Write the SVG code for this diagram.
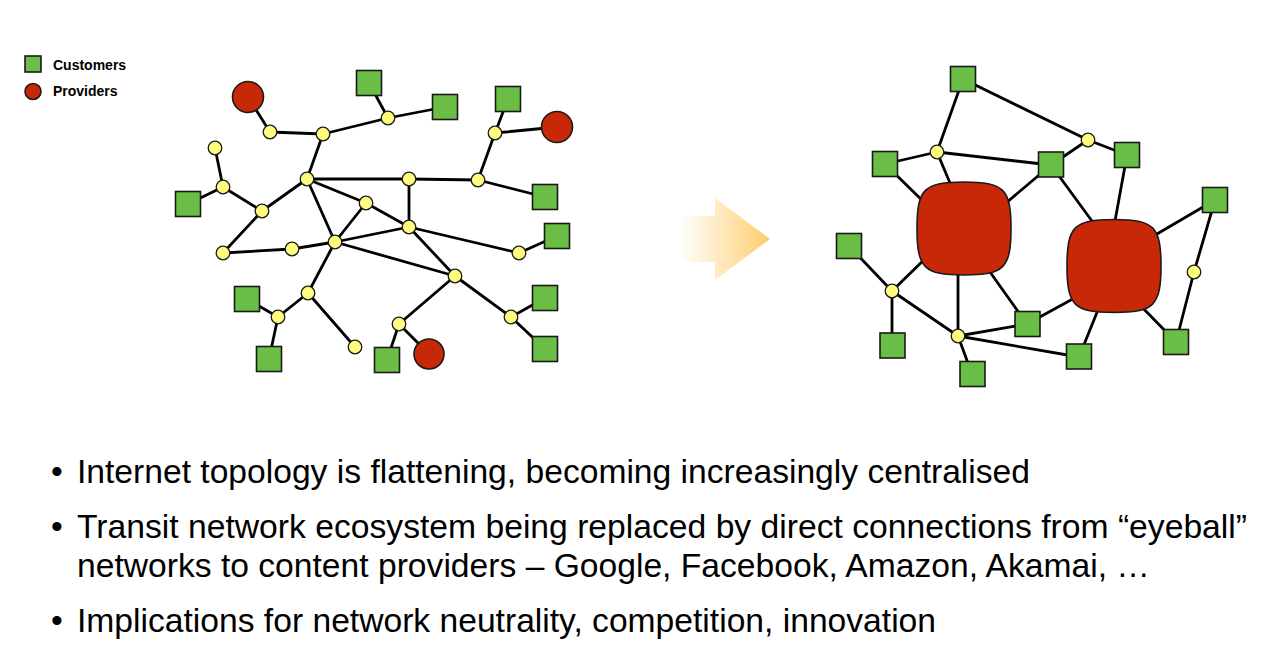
<svg xmlns="http://www.w3.org/2000/svg" width="1283" height="653" viewBox="0 0 1283 653">
<defs>
<style>
.e{stroke:#000;stroke-width:2.8;fill:none;stroke-linecap:round}
.c{fill:#6BBE45;stroke:#1a1a1a;stroke-width:1.6}
.p{fill:#C62808;stroke:#1a1a1a;stroke-width:1.6}
.y{fill:#FFFB7E;stroke:#1a1a1a;stroke-width:1.3}
.lg{font-family:"Liberation Sans",Arial,sans-serif;font-weight:bold;font-size:14px;fill:#000}
.bt{font-family:"Liberation Sans",Arial,sans-serif;font-size:33.5px;fill:#000}
</style>
<linearGradient id="ag" gradientUnits="userSpaceOnUse" x1="678" y1="0" x2="770" y2="0">
<stop offset="0" stop-color="#FFD27A" stop-opacity="0"/>
<stop offset="1" stop-color="#FFCC6A" stop-opacity="1"/>
</linearGradient>
</defs>
<rect width="1283" height="653" fill="#fff"/>

<g id="legend">
<rect class="c" x="25" y="56" width="16" height="16"/>
<text class="lg" x="53" y="70">Customers</text>
<circle class="p" cx="33" cy="91.5" r="8"/>
<text class="lg" x="53" y="96">Providers</text>
</g>

<g id="connectors-left">
<line class="e" x1="248" y1="97" x2="270" y2="132"/>
<line class="e" x1="270" y1="132" x2="323" y2="134"/>
<line class="e" x1="323" y1="134" x2="388" y2="118"/>
<line class="e" x1="388" y1="118" x2="369" y2="83"/>
<line class="e" x1="388" y1="118" x2="445" y2="107"/>
<line class="e" x1="323" y1="134" x2="307" y2="179"/>
<line class="e" x1="215" y1="148" x2="223" y2="187"/>
<line class="e" x1="223" y1="187" x2="188" y2="204"/>
<line class="e" x1="223" y1="187" x2="262" y2="211"/>
<line class="e" x1="262" y1="211" x2="307" y2="179"/>
<line class="e" x1="307" y1="179" x2="409" y2="179"/>
<line class="e" x1="409" y1="179" x2="478" y2="180"/>
<line class="e" x1="478" y1="180" x2="495" y2="133"/>
<line class="e" x1="495" y1="133" x2="508" y2="99"/>
<line class="e" x1="495" y1="133" x2="557" y2="127"/>
<line class="e" x1="478" y1="180" x2="545" y2="197"/>
<line class="e" x1="307" y1="179" x2="366" y2="203"/>
<line class="e" x1="366" y1="203" x2="409" y2="227"/>
<line class="e" x1="409" y1="179" x2="409" y2="227"/>
<line class="e" x1="307" y1="179" x2="335" y2="242"/>
<line class="e" x1="262" y1="211" x2="223" y2="253"/>
<line class="e" x1="223" y1="253" x2="292" y2="249"/>
<line class="e" x1="292" y1="249" x2="335" y2="242"/>
<line class="e" x1="335" y1="242" x2="366" y2="203"/>
<line class="e" x1="335" y1="242" x2="409" y2="227"/>
<line class="e" x1="335" y1="242" x2="455" y2="276"/>
<line class="e" x1="409" y1="227" x2="455" y2="276"/>
<line class="e" x1="409" y1="227" x2="519" y2="253"/>
<line class="e" x1="519" y1="253" x2="557" y2="236"/>
<line class="e" x1="335" y1="242" x2="308" y2="293"/>
<line class="e" x1="308" y1="293" x2="278" y2="317"/>
<line class="e" x1="278" y1="317" x2="247" y2="299"/>
<line class="e" x1="278" y1="317" x2="269" y2="359"/>
<line class="e" x1="308" y1="293" x2="355" y2="347"/>
<line class="e" x1="455" y1="276" x2="399" y2="324"/>
<line class="e" x1="399" y1="324" x2="387" y2="360"/>
<line class="e" x1="399" y1="324" x2="429" y2="354"/>
<line class="e" x1="455" y1="276" x2="511" y2="317"/>
<line class="e" x1="511" y1="317" x2="545" y2="298"/>
<line class="e" x1="511" y1="317" x2="545" y2="349"/>
</g>

<g id="nodes-left">
<circle id="L-P1" class="p" cx="248" cy="97" r="15.5"/>
<circle id="L-P2" class="p" cx="557" cy="127" r="15.5"/>
<circle id="L-P3" class="p" cx="429" cy="354" r="15"/>
<rect id="L-S1" class="c" x="356.5" y="70.5" width="25" height="25"/>
<rect id="L-S2" class="c" x="432.5" y="94.5" width="25" height="25"/>
<rect id="L-S3" class="c" x="495.5" y="86.5" width="25" height="25"/>
<rect id="L-S4" class="c" x="175.5" y="191.5" width="25" height="25"/>
<rect id="L-S5" class="c" x="532.5" y="184.5" width="25" height="25"/>
<rect id="L-S6" class="c" x="544.5" y="223.5" width="25" height="25"/>
<rect id="L-S7" class="c" x="234.5" y="286.5" width="25" height="25"/>
<rect id="L-S8" class="c" x="256.5" y="346.5" width="25" height="25"/>
<rect id="L-S9" class="c" x="374.5" y="347.5" width="25" height="25"/>
<rect id="L-S10" class="c" x="532.5" y="285.5" width="25" height="25"/>
<rect id="L-S11" class="c" x="532.5" y="336.5" width="25" height="25"/>
<circle id="L-a" class="y" cx="270" cy="132" r="6.8"/>
<circle id="L-b" class="y" cx="323" cy="134" r="6.8"/>
<circle id="L-c" class="y" cx="388" cy="118" r="6.8"/>
<circle id="L-d" class="y" cx="495" cy="133" r="6.8"/>
<circle id="L-e" class="y" cx="215" cy="148" r="6.8"/>
<circle id="L-f" class="y" cx="223" cy="187" r="6.8"/>
<circle id="L-g" class="y" cx="262" cy="211" r="6.8"/>
<circle id="L-h" class="y" cx="307" cy="179" r="6.8"/>
<circle id="L-i" class="y" cx="409" cy="179" r="6.8"/>
<circle id="L-j" class="y" cx="478" cy="180" r="6.8"/>
<circle id="L-k" class="y" cx="366" cy="203" r="6.8"/>
<circle id="L-l" class="y" cx="409" cy="227" r="6.8"/>
<circle id="L-m" class="y" cx="335" cy="242" r="6.8"/>
<circle id="L-n" class="y" cx="223" cy="253" r="6.8"/>
<circle id="L-o" class="y" cx="292" cy="249" r="6.8"/>
<circle id="L-p" class="y" cx="519" cy="253" r="6.8"/>
<circle id="L-q" class="y" cx="455" cy="276" r="6.8"/>
<circle id="L-r" class="y" cx="308" cy="293" r="6.8"/>
<circle id="L-s" class="y" cx="278" cy="317" r="6.8"/>
<circle id="L-t" class="y" cx="355" cy="347" r="6.8"/>
<circle id="L-u" class="y" cx="399" cy="324" r="6.8"/>
<circle id="L-v" class="y" cx="511" cy="317" r="6.8"/>
</g>

<g id="arrow">
<path d="M678,216 H715 V198 L770,239 L715,280 V262 H678 Z" fill="url(#ag)"/>
</g>

<g id="connectors-right">
<line class="e" x1="963" y1="79" x2="937" y2="152"/>
<line class="e" x1="963" y1="79" x2="1088" y2="140"/>
<line class="e" x1="937" y1="152" x2="885" y2="164"/>
<line class="e" x1="937" y1="152" x2="1051" y2="165"/>
<line class="e" x1="937" y1="152" x2="955" y2="195"/>
<line class="e" x1="1088" y1="140" x2="1051" y2="165"/>
<line class="e" x1="1088" y1="140" x2="1127" y2="155"/>
<line class="e" x1="885" y1="164" x2="930" y2="208"/>
<line class="e" x1="1051" y1="165" x2="1000" y2="208"/>
<line class="e" x1="1051" y1="165" x2="1100" y2="232"/>
<line class="e" x1="1127" y1="155" x2="1113" y2="232"/>
<line class="e" x1="1215" y1="200" x2="1145" y2="241"/>
<line class="e" x1="1215" y1="200" x2="1194" y2="272"/>
<line class="e" x1="1194" y1="272" x2="1176" y2="342"/>
<line class="e" x1="1135" y1="300" x2="1176" y2="342"/>
<line class="e" x1="849" y1="246" x2="892" y2="291"/>
<line class="e" x1="892" y1="291" x2="930" y2="254"/>
<line class="e" x1="892" y1="291" x2="892" y2="346"/>
<line class="e" x1="892" y1="291" x2="958" y2="336"/>
<line class="e" x1="958" y1="336" x2="958" y2="260"/>
<line class="e" x1="958" y1="336" x2="972" y2="374"/>
<line class="e" x1="958" y1="336" x2="1027" y2="324"/>
<line class="e" x1="958" y1="336" x2="1079" y2="357"/>
<line class="e" x1="985" y1="265" x2="1027" y2="324"/>
<line class="e" x1="1027" y1="324" x2="1080" y2="295"/>
<line class="e" x1="1100" y1="305" x2="1079" y2="357"/>
</g>

<g id="nodes-right">
<path id="R-big1" class="p" d="M964,182 C1004,182 1011,189 1011,228.5 C1011,268 1004,275 964,275 C924,275 917,268 917,228.5 C917,189 924,182 964,182 Z"/>
<path id="R-big2" class="p" d="M1114,219.5 C1154,219.5 1161,226.5 1161,266 C1161,305.5 1154,312.5 1114,312.5 C1074,312.5 1067,305.5 1067,266 C1067,226.5 1074,219.5 1114,219.5 Z"/>
<rect id="R-T1" class="c" x="950.5" y="66.5" width="25" height="25"/>
<rect id="R-T2" class="c" x="872.5" y="151.5" width="25" height="25"/>
<rect id="R-T3" class="c" x="1038.5" y="152" width="25" height="25"/>
<rect id="R-T4" class="c" x="1114.5" y="142.5" width="25" height="25"/>
<rect id="R-T5" class="c" x="1202.5" y="187.5" width="25" height="25"/>
<rect id="R-T6" class="c" x="1163.5" y="329.5" width="25" height="25"/>
<rect id="R-T7" class="c" x="836.5" y="233.5" width="25" height="25"/>
<rect id="R-T8" class="c" x="880" y="333" width="25" height="25"/>
<rect id="R-T9" class="c" x="960" y="361.5" width="25" height="25"/>
<rect id="R-T10" class="c" x="1015" y="311.5" width="25" height="25"/>
<rect id="R-T11" class="c" x="1066.5" y="344" width="25" height="25"/>
<circle id="R-A" class="y" cx="937" cy="152" r="6.8"/>
<circle id="R-B" class="y" cx="1088" cy="140" r="6.8"/>
<circle id="R-C" class="y" cx="1194" cy="272" r="6.8"/>
<circle id="R-D" class="y" cx="892" cy="291" r="6.8"/>
<circle id="R-E" class="y" cx="958" cy="336" r="6.8"/>
</g>

<g id="bullets">
<text class="bt" x="51" y="483">•</text>
<text class="bt" x="77" y="483" textLength="953" lengthAdjust="spacingAndGlyphs">Internet topology is flattening, becoming increasingly centralised</text>
<text class="bt" x="51" y="538">•</text>
<text class="bt" x="77" y="538" textLength="1170" lengthAdjust="spacingAndGlyphs">Transit network ecosystem being replaced by direct connections from “eyeball”</text>
<text class="bt" x="77" y="577" textLength="1073" lengthAdjust="spacingAndGlyphs">networks to content providers – Google, Facebook, Amazon, Akamai, …</text>
<text class="bt" x="51" y="632">•</text>
<text class="bt" x="77" y="632" textLength="859" lengthAdjust="spacingAndGlyphs">Implications for network neutrality, competition, innovation</text>
</g>
</svg>
